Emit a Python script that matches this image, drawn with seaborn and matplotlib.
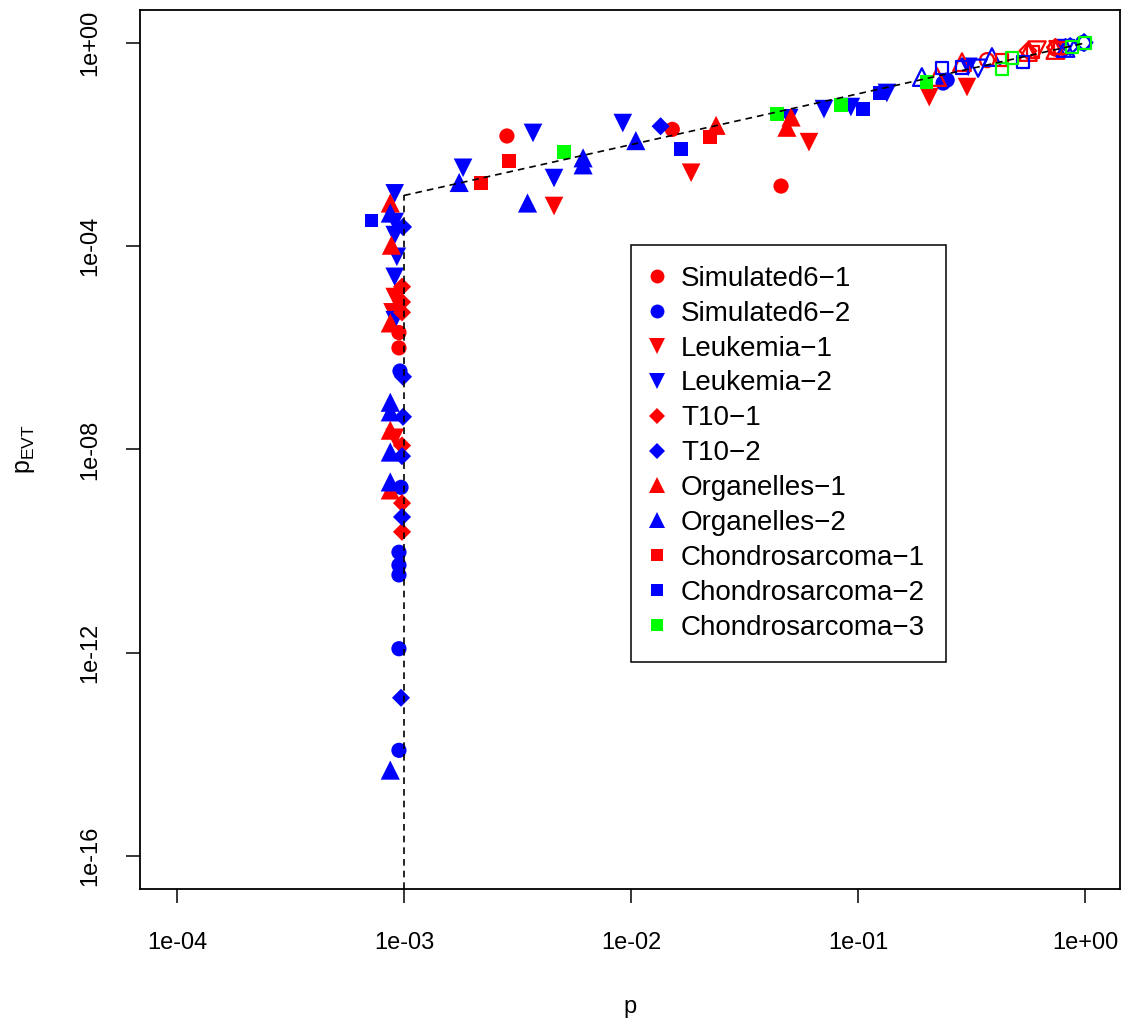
import numpy as np
import pandas as pd
import matplotlib
matplotlib.use("Agg")
import matplotlib.pyplot as plt
from matplotlib.lines import Line2D
import seaborn as sns

# ---------------- data ----------------
series_names = ["Simulated6\u22121", "Simulated6\u22122", "Leukemia\u22121", "Leukemia\u22122",
                "T10\u22121", "T10\u22122", "Organelles\u22121", "Organelles\u22122",
                "Chondrosarcoma\u22121", "Chondrosarcoma\u22122", "Chondrosarcoma\u22123"]
series_colors = ["#FF0000", "#0000FF", "#FF0000", "#0000FF", "#FF0000", "#0000FF",
                 "#FF0000", "#0000FF", "#FF0000", "#0000FF", "#00FF00"]
series_markers = ["o", "o", "v", "v", "D", "D", "^", "^", "s", "s", "s"]

sim1_p = [9.5e-4, 9.5e-4, 2.84e-3, 1.52e-2, 4.58e-2, 0.37, 0.74]
sim1_pevt = [2.0e-6, 1.0e-6, 1.48e-2, 2.0e-2, 1.53e-3, 0.46, 0.78]
sim1_open = [0, 0, 0, 0, 0, 1, 1]

sim2_p = [9.6e-4, 9.7e-4, 9.5e-4, 9.5e-4, 9.5e-4, 9.5e-4, 9.5e-4, 0.237, 0.247, 0.98]
sim2_pevt = [3.5e-7, 1.8e-9, 9.5e-11, 5.3e-11, 3.4e-11, 1.2e-12, 1.2e-14, 0.163, 0.187, 1.0]
sim2_open = [0, 0, 0, 0, 0, 0, 0, 0, 0, 1]

leuk1_p = [9.1e-4, 8.9e-4, 9.1e-4, 4.58e-3, 1.84e-2, 6.08e-2, 0.206, 0.302, 0.615, 0.76]
leuk1_pevt = [1.0e-5, 5.0e-6, 1.7e-8, 6.2e-4, 2.8e-3, 1.12e-2, 8.6e-2, 0.136, 0.73, 0.74]
leuk1_open = [0, 0, 0, 0, 0, 0, 0, 0, 1, 1]

leuk2_p = [9.1e-4, 9.1e-4, 9.1e-4, 9.3e-4, 9.1e-4, 9.1e-4, 1.82e-3, 3.7e-3, 4.58e-3,
           9.2e-3, 4.97e-2, 7.08e-2, 9.3e-2, 0.134, 0.306, 0.338, 0.82]
leuk2_pevt = [1.1e-3, 3.0e-4, 1.66e-4, 6.2e-5, 2.5e-5, 3.5e-6, 3.5e-3, 1.7e-2, 2.2e-3,
              2.66e-2, 3.3e-2, 5.0e-2, 5.5e-2, 0.104, 0.34, 0.32, 0.78]
leuk2_open = [0, 0, 0, 0, 0, 0, 0, 0, 0, 0, 0, 0, 0, 0, 0, 1, 1]

t10a_p = [9.8e-4, 9.8e-4, 9.8e-4, 9.8e-4, 9.8e-4, 9.8e-4, 0.56, 0.74]
t10a_pevt = [1.6e-5, 8.0e-6, 5.0e-6, 1.2e-8, 8.8e-10, 2.4e-10, 0.70, 0.82]
t10a_open = [0, 0, 0, 0, 0, 0, 1, 1]

t10b_p = [9.9e-4, 9.9e-4, 9.9e-4, 9.8e-4, 9.8e-4, 9.7e-4, 1.35e-2, 0.86, 0.99]
t10b_pevt = [2.4e-4, 2.7e-7, 4.4e-8, 7.4e-9, 4.7e-10, 1.3e-13, 2.3e-2, 0.85, 1.02]
t10b_open = [0, 0, 0, 0, 0, 0, 0, 1, 1]

org1_p = [8.7e-4, 8.8e-4, 8.7e-4, 8.7e-4, 8.7e-4, 2.37e-2, 4.86e-2, 5.07e-2,
          0.223, 0.287, 0.56, 0.74]
org1_pevt = [7.1e-4, 1.05e-4, 3.1e-6, 2.4e-8, 1.6e-9, 2.4e-2, 2.2e-2, 3.5e-2,
             0.214, 0.42, 0.665, 0.73]
org1_open = [0, 0, 0, 0, 0, 0, 0, 0, 1, 1, 1, 1]

org2_p = [8.7e-4, 8.7e-4, 8.7e-4, 8.7e-4, 8.7e-4, 8.7e-4, 1.75e-3, 3.5e-3, 6.15e-3,
          6.15e-3, 1.05e-2, 0.191, 0.389, 0.82]
org2_pevt = [4.5e-4, 8.5e-8, 5.5e-8, 8.9e-9, 2.3e-9, 4.9e-15, 1.8e-3, 7.1e-4, 5.5e-3,
             4.0e-3, 1.2e-2, 0.214, 0.53, 0.80]
org2_open = [0, 0, 0, 0, 0, 0, 0, 0, 0, 0, 0, 1, 1, 1]

chon1_p = [2.18e-3, 2.9e-3, 2.23e-2, 0.43, 0.59, 0.776]
chon1_pevt = [1.75e-3, 4.8e-3, 1.4e-2, 0.46, 0.665, 0.80]
chon1_open = [0, 0, 0, 1, 1, 1]

chon2_p = [7.2e-4, 1.66e-2, 0.105, 0.125, 0.234, 0.287, 0.533]
chon2_pevt = [3.2e-4, 8.2e-3, 5.0e-2, 0.104, 0.32, 0.33, 0.42]
chon2_open = [0, 0, 0, 0, 1, 1, 1]

chon3_p = [5.07e-3, 4.4e-2, 8.4e-2, 0.2, 0.43, 0.476, 0.877, 1.0]
chon3_pevt = [7.1e-3, 4.0e-2, 6.0e-2, 0.17, 0.31, 0.51, 0.83, 1.0]
chon3_open = [0, 0, 0, 0, 1, 1, 1, 1]

x_ticks = [1e-4, 1e-3, 1e-2, 1e-1, 1e0]
x_ticklabels = ["1e-04", "1e-03", "1e-02", "1e-01", "1e+00"]
y_ticks = [1e-16, 1e-12, 1e-8, 1e-4, 1e0]
y_ticklabels = ["1e-16", "1e-12", "1e-08", "1e-04", "1e+00"]
threshold = 1e-3

all_p = [sim1_p, sim2_p, leuk1_p, leuk2_p, t10a_p, t10b_p, org1_p, org2_p, chon1_p, chon2_p, chon3_p]
all_pevt = [sim1_pevt, sim2_pevt, leuk1_pevt, leuk2_pevt, t10a_pevt, t10b_pevt, org1_pevt,
            org2_pevt, chon1_pevt, chon2_pevt, chon3_pevt]
all_open = [sim1_open, sim2_open, leuk1_open, leuk2_open, t10a_open, t10b_open, org1_open,
            org2_open, chon1_open, chon2_open, chon3_open]

frames = []
for name, p, pe, op in zip(series_names, all_p, all_pevt, all_open):
    frames.append(pd.DataFrame({"series": name, "p": p, "pevt": pe, "open": op}))
df = pd.concat(frames, ignore_index=True)

# ---------------- style ----------------
sns.set_style("ticks")
plt.rcParams["font.family"] = ["Liberation Sans", "DejaVu Sans"]
plt.rcParams["mathtext.default"] = "regular"
plt.rcParams["text.color"] = "black"
plt.rcParams["axes.labelcolor"] = "black"
plt.rcParams["xtick.color"] = "black"
plt.rcParams["ytick.color"] = "black"

fig = plt.figure(figsize=(11.32, 10.21), dpi=100)
ax = fig.add_axes([140 / 1132, 1 - 889 / 1021, 980 / 1132, 879 / 1021])
ax.set_xscale("log")
ax.set_yscale("log")
ax.set_xlim(10 ** -4.163, 10 ** 0.154)
ax.set_ylim(10 ** -16.65, 10 ** 0.65)

marker_sizes = {"o": 120, "v": 180, "^": 190, "D": 85, "s": 95}

for name, col, mk in zip(series_names, series_colors, series_markers):
    sub = df[df["series"] == name]
    filled = sub[sub["open"] == 0]
    hollow = sub[sub["open"] == 1]
    if len(filled):
        sns.scatterplot(data=filled, x="p", y="pevt", color=col, marker=mk,
                        s=marker_sizes[mk], linewidth=0, edgecolor="none",
                        legend=False, ax=ax, zorder=3)
    if len(hollow):
        sns.scatterplot(data=hollow, x="p", y="pevt", color=col, marker=mk,
                        s=marker_sizes[mk] * 0.85, facecolor="none", edgecolor=col,
                        linewidth=1.6, legend=False, ax=ax, zorder=3)

# reference lines
ylo = ax.get_ylim()[0]
ax.plot([threshold, 1.0], [threshold, 1.0], color="black", lw=1.2,
        dashes=(4, 3), zorder=4)
ax.plot([threshold, threshold], [ylo, threshold], color="black", lw=1.2,
        dashes=(4, 3), zorder=4)

# axes
for s in ax.spines.values():
    s.set_visible(True)
    s.set_color("black")
    s.set_linewidth(1.3)
ax.set_xticks(x_ticks)
ax.set_xticklabels(x_ticklabels)
ax.set_yticks(y_ticks)
ax.set_yticklabels(y_ticklabels, rotation=90, va="center")
ax.minorticks_off()
ax.tick_params(axis="both", which="major", direction="out", length=10, width=1.1,
               labelsize=17, color="black", labelcolor="black")
ax.tick_params(axis="x", pad=21)
ax.tick_params(axis="y", pad=18)
ax.set_xlabel("p", fontsize=17, labelpad=30, color="black")
ax.set_ylabel("$\\mathregular{p_{EVT}}$", fontsize=18, labelpad=30, color="black")
ax.grid(False)

# legend
handles = []
leg_ms = {"o": 10, "v": 12, "^": 12, "D": 8.5, "s": 8.5}
for name, col, mk in zip(series_names, series_colors, series_markers):
    handles.append(Line2D([0], [0], linestyle="none", marker=mk, color=col,
                          markerfacecolor=col, markeredgewidth=0,
                          markersize=leg_ms[mk], label=name))
leg = ax.legend(handles=handles, loc="upper left",
                bbox_to_anchor=((631 - 140) / 980, (889 - 245) / 879),
                borderaxespad=0, fontsize=20, frameon=True, fancybox=False,
                edgecolor="black", framealpha=1, borderpad=0.75,
                handlelength=0.35, handletextpad=0.7, labelspacing=0.32)
leg.get_frame().set_linewidth(1.1)
for t in leg.get_texts():
    t.set_color("black")

fig.savefig("out.png", dpi=100)
